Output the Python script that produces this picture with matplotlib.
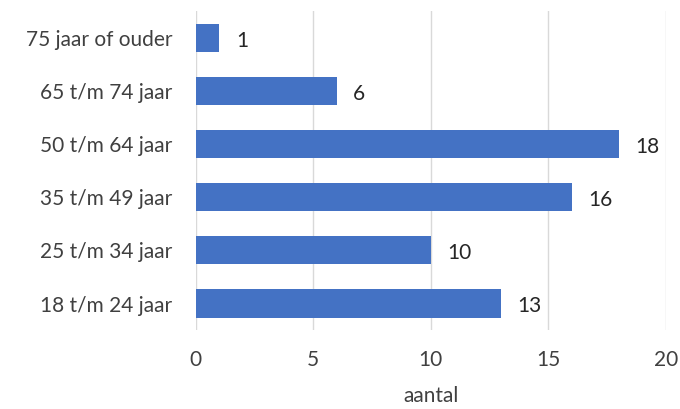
import matplotlib.pyplot as plt

categorieen = ['18 t/m 24 jaar', '25 t/m 34 jaar', '35 t/m 49 jaar',
               '50 t/m 64 jaar', '65 t/m 74 jaar', '75 jaar of ouder']
aantallen = [13, 10, 16, 18, 6, 1]
x_ticks = [0, 5, 10, 15, 20]

plt.rcParams['font.family'] = ['Lato', 'DejaVu Sans']

fig = plt.figure(figsize=(6.8, 4.09), dpi=100)
ax = fig.add_axes([0.288, 0.193, 0.691, 0.779])

posities = range(len(categorieen))
bars = ax.barh(posities, aantallen, height=0.53, color='#4472C4', zorder=3)

# waarden naast de balken
for p, v in zip(posities, aantallen):
    ax.text(v + 0.7, p - 0.05, str(v), va='center', ha='left',
            fontsize=15, color='#262626')

ax.set_yticks(list(posities))
ax.set_yticklabels(categorieen, fontsize=15, color='#404040')
ax.set_xticks(x_ticks)
ax.set_xticklabels([str(t) for t in x_ticks], fontsize=15, color='#404040')
ax.set_xlim(0, 20)
ax.set_ylim(-0.5, len(categorieen) - 0.5)
ax.set_xlabel('aantal', fontsize=15, color='#404040', labelpad=12)

ax.grid(axis='x', color='#D9D9D9', linewidth=1, zorder=0)
ax.tick_params(axis='y', length=0, pad=17)
ax.tick_params(axis='x', length=0, pad=14)
for s in ax.spines.values():
    s.set_visible(False)

fig.savefig('out.png', dpi=100)
